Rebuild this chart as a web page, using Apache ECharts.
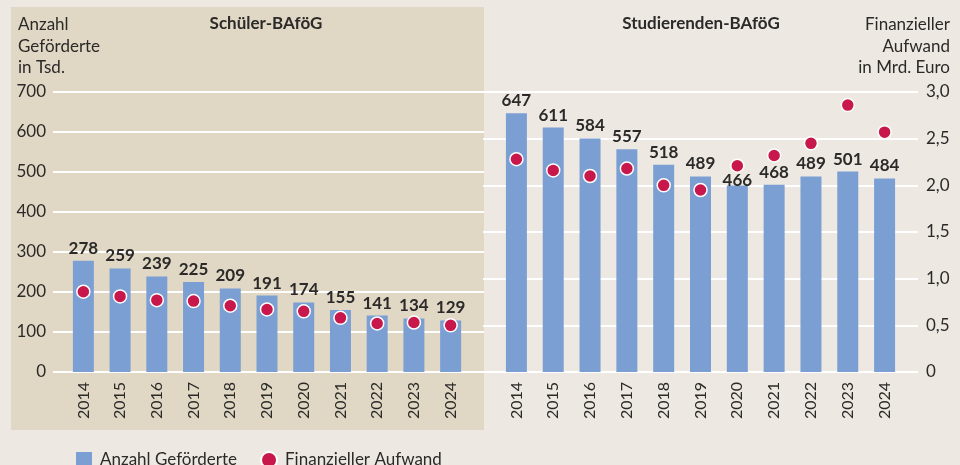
<!DOCTYPE html>
<html>
<head>
<meta charset="utf-8">
<script src="https://cdn.jsdelivr.net/npm/echarts@6/dist/echarts.min.js"></script>
<style>
  html, body { margin: 0; padding: 0; background: #ede9e2; }
  #main { width: 960px; height: 465px; }
</style>
</head>
<body>
<div id="main"></div>
<script>
const years = ['2014', '2015', '2016', '2017', '2018', '2019', '2020', '2021', '2022', '2023', '2024'];
const schuelerAnzahl = [278, 259, 239, 225, 209, 191, 174, 155, 141, 134, 129];
const schuelerAufwand = [0.86, 0.81, 0.77, 0.76, 0.71, 0.67, 0.65, 0.58, 0.52, 0.53, 0.50];
const studAnzahl = [647, 611, 584, 557, 518, 489, 466, 468, 489, 501, 484];
const studAufwand = [2.28, 2.16, 2.10, 2.18, 2.00, 1.95, 2.21, 2.32, 2.45, 2.86, 2.57];
const anzahlMax = 700, anzahlStep = 100;
const aufwandMax = 3, aufwandStep = 0.5;

const FONT = 'Lato';
const TXT = '#2b2a29';
const BAR = '#7b9fd3';
const DOT = '#c8174b';

function hiddenY(grid, max, step) {
  return { type: 'value', gridIndex: grid, min: 0, max: max, interval: step, show: false };
}

function catX(grid) {
  return {
    type: 'category', gridIndex: grid, data: years,
    axisLine: { show: false }, axisTick: { show: false },
    axisLabel: { rotate: 90, margin: 10, color: TXT, fontFamily: FONT, fontSize: 16 }
  };
}

function barSeries(x, y, data) {
  return {
    name: 'Anzahl Geförderte', type: 'bar', xAxisIndex: x, yAxisIndex: y,
    barWidth: 21, itemStyle: { color: BAR },
    label: { show: true, position: 'top', distance: 4, color: TXT, fontFamily: FONT, fontWeight: 'bold', fontSize: 17 },
    data: data
  };
}

function dotSeries(x, y, data) {
  return {
    name: 'Finanzieller Aufwand', type: 'scatter', xAxisIndex: x, yAxisIndex: y,
    symbolSize: 13, z: 5,
    itemStyle: { color: DOT, borderColor: '#fff', borderWidth: 1.5, opacity: 1 },
    data: data
  };
}

// 466 label sits lower in the original, under the dot
const studBars = studAnzahl.map((v, i) => i === 6 ? { value: v, label: { offset: [0, 7] } } : v);

const option = {
  backgroundColor: '#ede9e2',
  animation: false,
  textStyle: { fontFamily: FONT },
  graphic: [
    { type: 'rect', z: -10, shape: { x: 11, y: 7, width: 473, height: 423 }, style: { fill: '#e0d8c5' } },
    { type: 'text', x: 18, y: 14, style: { text: 'Anzahl\nGeförderte\nin Tsd.', fill: TXT, fontFamily: FONT, fontSize: 17, lineHeight: 21.5, align: 'left', verticalAlign: 'top' } },
    { type: 'text', x: 950, y: 14, style: { text: 'Finanzieller\nAufwand\nin Mrd. Euro', fill: TXT, fontFamily: FONT, fontSize: 17, lineHeight: 21.5, align: 'right', verticalAlign: 'top' } },
    { type: 'text', x: 266, y: 15, style: { text: 'Schüler-BAföG', fill: TXT, fontFamily: FONT, fontWeight: 'bold', fontSize: 17, align: 'center', verticalAlign: 'top' } },
    { type: 'text', x: 701, y: 15, style: { text: 'Studierenden-BAföG', fill: TXT, fontFamily: FONT, fontWeight: 'bold', fontSize: 17, align: 'center', verticalAlign: 'top' } }
  ],
  legend: {
    left: 71, top: 446, itemWidth: 16, itemHeight: 16, itemGap: 23,
    textStyle: { color: TXT, fontFamily: FONT, fontSize: 17, padding: [0, 0, 0, 3] },
    data: [
      { name: 'Anzahl Geförderte', icon: 'rect' },
      { name: 'Finanzieller Aufwand', icon: 'circle' }
    ]
  },
  grid: [
    { left: 65, width: 404, top: 92, height: 280 },
    { left: 498, width: 405, top: 92, height: 280 },
    { left: 53, width: 431, top: 92, height: 280 },
    { left: 483, width: 435, top: 92, height: 280 }
  ],
  xAxis: [
    catX(0),
    catX(1),
    { type: 'value', gridIndex: 2, show: false },
    { type: 'value', gridIndex: 3, show: false }
  ],
  yAxis: [
    hiddenY(0, anzahlMax, anzahlStep),
    hiddenY(0, aufwandMax, aufwandStep),
    hiddenY(1, anzahlMax, anzahlStep),
    hiddenY(1, aufwandMax, aufwandStep),
    {
      type: 'value', gridIndex: 2, min: 0, max: anzahlMax, interval: anzahlStep,
      axisLine: { show: false }, axisTick: { show: false },
      axisLabel: { margin: 7, color: TXT, fontFamily: FONT, fontSize: 17 },
      splitLine: { lineStyle: { color: '#ffffff', width: 2 } }
    },
    {
      type: 'value', gridIndex: 3, position: 'right', min: 0, max: aufwandMax, interval: aufwandStep,
      axisLine: { show: false }, axisTick: { show: false },
      axisLabel: {
        margin: 8, color: TXT, fontFamily: FONT, fontSize: 17,
        formatter: v => v === 0 ? '0' : v.toFixed(1).replace('.', ',')
      },
      splitLine: { lineStyle: { color: '#ffffff', width: 2 } }
    }
  ],
  series: [
    barSeries(0, 0, schuelerAnzahl),
    dotSeries(0, 1, schuelerAufwand),
    barSeries(1, 2, studBars),
    dotSeries(1, 3, studAufwand)
  ]
};

const myChart = echarts.init(document.getElementById('main'), null, { renderer: 'canvas' });
myChart.setOption(option);
</script>
</body>
</html>
